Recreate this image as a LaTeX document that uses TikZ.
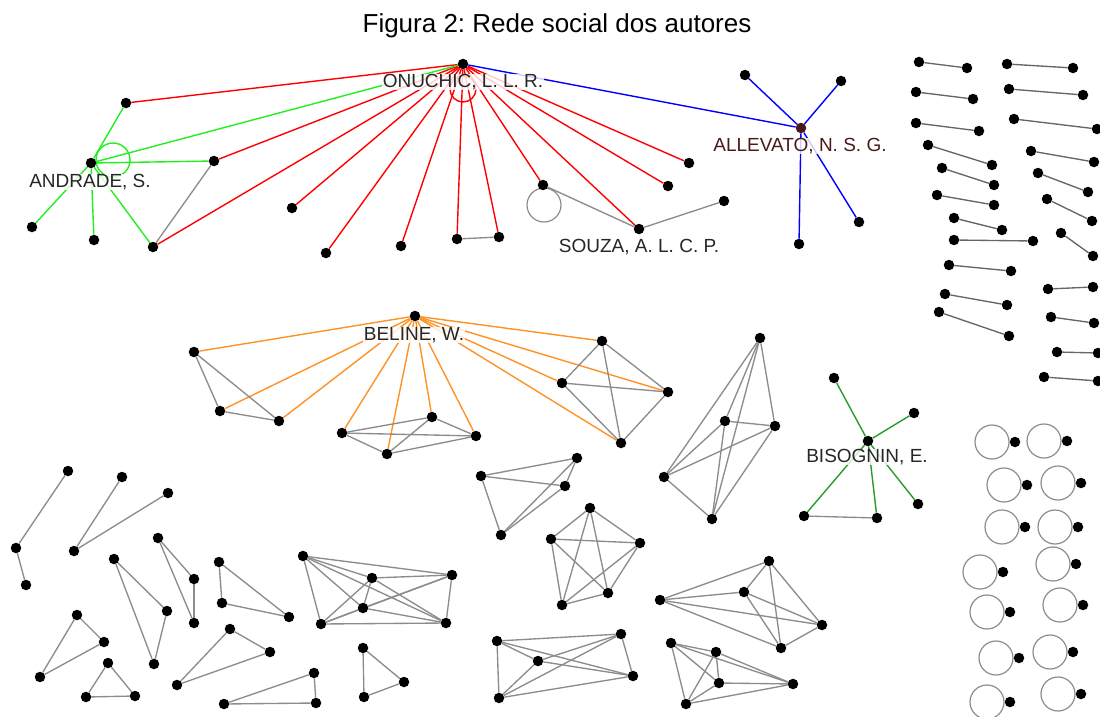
\documentclass[tikz,border=0pt]{standalone}
\usepackage{fontspec}
\setmainfont{Liberation Sans}
\usepackage{tikz}
\pgfdeclarelayer{bg}
\pgfsetlayers{bg,main}
\frenchspacing
\definecolor{allevcol}{HTML}{4A1A1A}
\definecolor{orangeedge}{HTML}{FF9224}
\definecolor{darkgreenedge}{HTML}{2A9A2A}
\definecolor{greenedge}{HTML}{22EE22}
\newcommand{\cliquedraw}[2]{%
	\foreach \i in {1,...,#2} {
		\foreach \j in {1,...,#2} {
			\ifnum\i<\j \draw[grayline] (#1\i) -- (#1\j);\fi
		}
	}
}

\begin{document}
\begin{tikzpicture}[x=1pt, y=-1pt,
		dot/.style={circle, fill=black, inner sep=0pt, minimum size=10.5pt},
		grayline/.style={draw=black!45, line width=1.35pt},
		redline/.style={draw=red, line width=1.4pt},
		greenline/.style={draw=greenedge, line width=1.4pt},
		blueline/.style={draw=blue, line width=1.4pt},
		orangeline/.style={draw=orangeedge, line width=1.4pt},
		dgreenline/.style={draw=darkgreenedge, line width=1.4pt},
		looptie/.style={draw=black!45, line width=1.2pt},
		authorname/.style={fill=white, fill opacity=0.8, text opacity=1, text=black!85, inner sep=0.5pt, font=\fontsize{19}{21}\selectfont}]
	\useasboundingbox (0,0) rectangle (1100,717);
	\node[font=\fontsize{26}{30}\selectfont] (title) at (557,26) {Figura 2: Rede social dos autores};

	% rede do ONUCHIC
	\node[dot] (on) at (463,64) {};
	\node[dot] (an) at (91,163) {};
	\node[dot] (a1) at (126,103) {};
	\node[dot] (a2) at (214,161) {};
	\node[dot] (a3) at (32,227) {};
	\node[dot] (a4) at (94,240) {};
	\node[dot] (a5) at (153,247) {};
	\node[dot] (p1) at (292,208) {};
	\node[dot] (p2) at (326,253) {};
	\node[dot] (p3) at (401,246) {};
	\node[dot] (p4) at (457,239) {};
	\node[dot] (p5) at (499,237) {};
	\node[dot] (s1) at (543,185) {};
	\node[dot] (r1) at (689,163) {};
	\node[dot] (r2) at (668,186) {};
	\node[dot] (sz) at (639,229) {};
	\node[dot] (sz2) at (724,201) {};
	\node[dot, fill=allevcol] (al) at (801,128) {};
	\node[dot] (al1) at (745,75) {};
	\node[dot] (al2) at (841,81) {};
	\node[dot] (al3) at (859,222) {};
	\node[dot] (al4) at (799,244) {};

	% rede do BELINE
	\node[dot] (be) at (415,316) {};
	\node[dot] (b1) at (194,352) {};
	\node[dot] (b2) at (220,411) {};
	\node[dot] (b3) at (279,421) {};
	\node[dot] (c1) at (342,433) {};
	\node[dot] (c2) at (387,454) {};
	\node[dot] (c3) at (432,417) {};
	\node[dot] (c4) at (476,436) {};
	\node[dot] (d1) at (602,341) {};
	\node[dot] (d2) at (562,383) {};
	\node[dot] (d3) at (668,392) {};
	\node[dot] (d4) at (621,443) {};

	\node[dot] (e1) at (760,338) {};
	\node[dot] (e2) at (725,421) {};
	\node[dot] (e3) at (775,426) {};
	\node[dot] (e4) at (664,477) {};
	\node[dot] (e5) at (712,519) {};

	% rede do BISOGNIN
	\node[dot] (bi) at (868,441) {};
	\node[dot] (f1) at (834,378) {};
	\node[dot] (f2) at (914,413) {};
	\node[dot] (f3) at (804,516) {};
	\node[dot] (f4) at (877,518) {};
	\node[dot] (f5) at (918,504) {};

	% grupos pequenos
	\node[dot] (g1) at (68,471) {};
	\node[dot] (g2) at (16,548) {};
	\node[dot] (g3) at (26,585) {};
	\node[dot] (h1) at (122,477) {};
	\node[dot] (h2) at (168,493) {};
	\node[dot] (h3) at (74,551) {};
	\node[dot] (i1) at (114,559) {};
	\node[dot] (i2) at (167,611) {};
	\node[dot] (i3) at (154,664) {};
	\node[dot] (j1) at (158,538) {};
	\node[dot] (j2) at (194,579) {};
	\node[dot] (j3) at (194,623) {};
	\node[dot] (k1) at (219,562) {};
	\node[dot] (k2) at (222,603) {};
	\node[dot] (k3) at (289,617) {};
	\node[dot] (l1) at (77,615) {};
	\node[dot] (l2) at (104,642) {};
	\node[dot] (l3) at (40,677) {};
	\node[dot] (m1) at (108,663) {};
	\node[dot] (m2) at (86,697) {};
	\node[dot] (m3) at (135,696) {};
	\node[dot] (n1) at (230,629) {};
	\node[dot] (n2) at (270,652) {};
	\node[dot] (n3) at (177,685) {};
	\node[dot] (o1) at (224,704) {};
	\node[dot] (o2) at (314,673) {};
	\node[dot] (o3) at (316,703) {};
	\node[dot] (q1) at (363,648) {};
	\node[dot] (q2) at (404,682) {};
	\node[dot] (q3) at (364,697) {};

	\node[dot] (k61) at (303,556) {};
	\node[dot] (k62) at (372,578) {};
	\node[dot] (k63) at (452,575) {};
	\node[dot] (k64) at (363,608) {};
	\node[dot] (k65) at (321,624) {};
	\node[dot] (k66) at (446,623) {};

	\node[dot] (t1) at (481,476) {};
	\node[dot] (t2) at (577,458) {};
	\node[dot] (t3) at (565,486) {};
	\node[dot] (t4) at (501,535) {};

	\node[dot] (u1) at (590,508) {};
	\node[dot] (u2) at (551,539) {};
	\node[dot] (u3) at (640,543) {};
	\node[dot] (u4) at (608,593) {};
	\node[dot] (u5) at (562,605) {};

	\node[dot] (v1) at (497,641) {};
	\node[dot] (v2) at (621,634) {};
	\node[dot] (v3) at (538,661) {};
	\node[dot] (v4) at (633,676) {};
	\node[dot] (v5) at (499,698) {};

	\node[dot] (w1) at (660,600) {};
	\node[dot] (w2) at (769,561) {};
	\node[dot] (w3) at (744,592) {};
	\node[dot] (w4) at (822,625) {};
	\node[dot] (w5) at (781,648) {};

	\node[dot] (x1) at (671,643) {};
	\node[dot] (x2) at (716,652) {};
	\node[dot] (x3) at (719,683) {};
	\node[dot] (x4) at (793,684) {};
	\node[dot] (x5) at (686,704) {};

	\begin{pgfonlayer}{bg}
		\foreach \b in {a1,a2,a5,p1,p2,p3,p4,p5,s1,r1,r2,sz}
			\draw[redline] (on) -- (\b);
		\draw[redline] (on) ++(0,25) circle (13pt);
		\foreach \b in {on,a1,a2,a3,a4,a5}
			\draw[greenline] (an) -- (\b);
		\draw[greenline] (an) ++(22,-3) circle (17pt);
		\foreach \b in {on,al1,al2,al3,al4}
			\draw[blueline] (al) -- (\b);
		\foreach \a/\b in {a2/a5, p4/p5, s1/sz, sz/sz2}
			\draw[grayline] (\a) -- (\b);
		\draw[looptie] (s1) ++(1,20) circle (17pt);

		\foreach \b in {b1,b2,b3,c1,c2,c3,c4,d1,d2,d3,d4}
			\draw[orangeline] (be) -- (\b);
		\cliquedraw{b}{3}
		\cliquedraw{c}{4}
		\cliquedraw{d}{4}
		\cliquedraw{e}{5}

		\foreach \b in {f1,f2,f3,f4,f5}
			\draw[dgreenline] (bi) -- (\b);
		\draw[grayline] (f3) -- (f4);

		\foreach \a/\b in {g1/g2, g2/g3, h3/h1, h3/h2}
			\draw[grayline] (\a) -- (\b);
		\foreach \g in {i,j,k,l,m,n,o,q} {
			\cliquedraw{\g}{3}
		}
		\cliquedraw{k6}{6}
		\cliquedraw{t}{4}
		\cliquedraw{u}{5}
		\cliquedraw{v}{5}
		\cliquedraw{w}{5}
		\cliquedraw{x}{5}
	\end{pgfonlayer}

	% pares isolados
	\foreach \x/\y/\u/\v [count=\n] in {919/62/967/68, 916/92/973/99, 916/123/979/131,
			928/145/992/165, 942/168/994/185, 937/195/994/205, 954/218/1002/230,
			954/240/1033/241, 949/265/1011/271, 945/294/1007/305, 939/312/1009/336,
			1007/64/1073/68, 1009/89/1083/95, 1014/119/1097/129, 1031/151/1094/162,
			1038/173/1088/192, 1047/199/1092/221, 1061/233/1093/256, 1048/289/1093/287,
			1051/317/1094/323, 1057/352/1098/353, 1044/377/1098/381} {
		\node[dot] (pa\n) at (\x,\y) {};
		\node[dot] (pb\n) at (\u,\v) {};
		\begin{pgfonlayer}{bg}
			\draw[grayline, draw=black!60] (pa\n) -- (pb\n);
		\end{pgfonlayer}
	}

	% autores com lacos
	\foreach \x/\y [count=\n] in {1015/442, 1027/485, 1025/527, 1003/572, 1010/612,
			1019/658, 1010/702, 1067/441, 1081/483, 1078/527, 1076/564, 1083/605,
			1073/652, 1081/694} {
		\node[dot] (sl\n) at (\x,\y) {};
		\draw[looptie] (sl\n) ++(-23,0) circle (17pt);
	}

	% nomes
	\node[authorname] (onname) at (463,82) {ONUCHIC, L. L. R.};
	\node[authorname] (anname) at (90,182) {ANDRADE, S.};
	\node[authorname, text=allevcol] (alname) at (800,146) {ALLEVATO, N. S. G.};
	\node[authorname] (szname) at (639,247) {SOUZA, A. L. C. P.};
	\node[authorname] (bename) at (414,335) {BELINE, W.};
	\node[authorname] (biname) at (867,457) {BISOGNIN, E.};
\end{tikzpicture}
\end{document}
